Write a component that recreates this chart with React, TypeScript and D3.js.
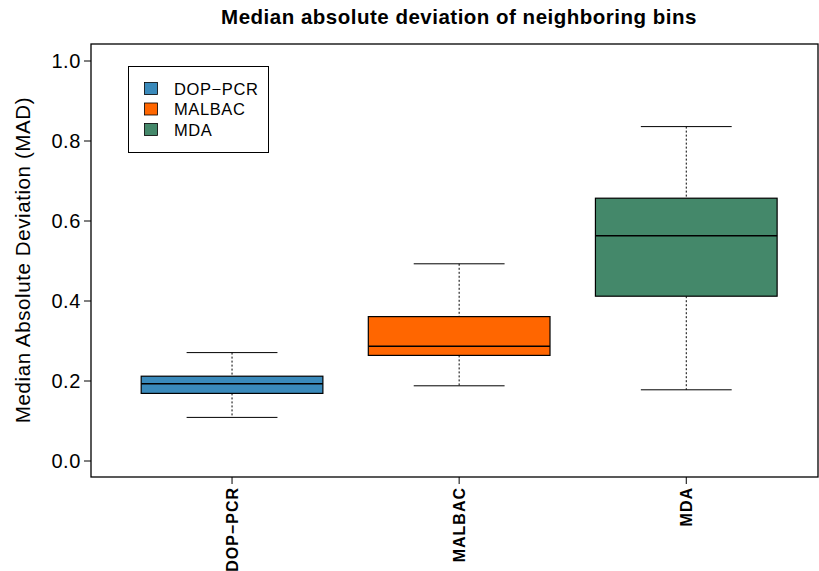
import * as d3 from "d3";

const categories = ["DOP\u2212PCR", "MALBAC", "MDA"];
const lowerWhisker = [0.109, 0.188, 0.178];
const q1 = [0.169, 0.264, 0.412];
const medians = [0.193, 0.287, 0.563];
const q3 = [0.212, 0.361, 0.657];
const upperWhisker = [0.271, 0.493, 0.836];
const colors = ["#3A8ABB", "#FF6600", "#44886A"];
const yTicks = [0, 0.2, 0.4, 0.6, 0.8, 1.0];

const W = 819;
const H = 571;
const panel = { left: 91, right: 818, top: 44, bottom: 477 };
const font = "'Liberation Sans', Arial, Helvetica, sans-serif";

export default function App() {
    const x = d3.scaleLinear().domain([0.379, 3.58]).range([panel.left, panel.right]);
    const y = d3.scaleLinear().domain([0, 1]).range([461, 61]);
    const boxW = x(1.4) - x(0.6);
    const capW = boxW / 2;

    return (
        <svg width={W} height={H} style={{ position: "absolute", left: 0, top: 0, background: "#fff" }} fontFamily={font}>
            <text x={459} y={24} textAnchor="middle" fontSize={20.5} fontWeight="bold" letterSpacing={0.5}>
                Median absolute deviation of neighboring bins
            </text>

            {categories.map((c, i) => {
                const cx = x(i + 1);
                return (
                    <g key={c}>
                        <line x1={cx} x2={cx} y1={y(upperWhisker[i])} y2={y(q3[i])} stroke="#000" strokeDasharray="2,2" />
                        <line x1={cx} x2={cx} y1={y(q1[i])} y2={y(lowerWhisker[i])} stroke="#000" strokeDasharray="2,2" />
                        <line x1={cx - capW / 2} x2={cx + capW / 2} y1={y(upperWhisker[i])} y2={y(upperWhisker[i])} stroke="#000" />
                        <line x1={cx - capW / 2} x2={cx + capW / 2} y1={y(lowerWhisker[i])} y2={y(lowerWhisker[i])} stroke="#000" />
                        <rect
                            x={cx - boxW / 2}
                            y={y(q3[i])}
                            width={boxW}
                            height={y(q1[i]) - y(q3[i])}
                            fill={colors[i]}
                            stroke="#000"
                            strokeWidth={1.2}
                        />
                        <line x1={cx - boxW / 2} x2={cx + boxW / 2} y1={y(medians[i])} y2={y(medians[i])} stroke="#000" strokeWidth={1.5} />
                        <line x1={cx} x2={cx} y1={panel.bottom} y2={panel.bottom + 7} stroke="#000" />
                        <text
                            transform={`translate(${cx + 6},${panel.bottom + 10}) rotate(-90)`}
                            textAnchor="end"
                            fontSize={16}
                            fontWeight="bold"
                            letterSpacing={1}
                        >
                            {c}
                        </text>
                    </g>
                );
            })}

            <rect
                x={panel.left}
                y={panel.top}
                width={panel.right - panel.left}
                height={panel.bottom - panel.top}
                fill="none"
                stroke="#000"
                strokeWidth={1.3}
            />

            {yTicks.map((t) => (
                <g key={t}>
                    <line x1={panel.left - 7} x2={panel.left} y1={y(t)} y2={y(t)} stroke="#000" />
                    <text x={panel.left - 10} y={y(t) + 7} textAnchor="end" fontSize={20} letterSpacing={0.6}>
                        {t.toFixed(1)}
                    </text>
                </g>
            ))}

            <text transform={`translate(30,260) rotate(-90)`} textAnchor="middle" fontSize={20.5} letterSpacing={0.6}>
                Median Absolute Deviation (MAD)
            </text>

            <rect x={128.5} y={66.5} width={140} height={86} fill="#fff" stroke="#000" />
            {categories.map((c, i) => (
                <g key={`leg-${c}`}>
                    <rect x={144.5} y={82.5 + i * 20.5} width={13} height={12} fill={colors[i]} stroke="#000" strokeWidth={0.8} />
                    <text x={174} y={94.5 + i * 20.5} fontSize={16.5} letterSpacing={0.6}>
                        {c}
                    </text>
                </g>
            ))}
        </svg>
    );
}
